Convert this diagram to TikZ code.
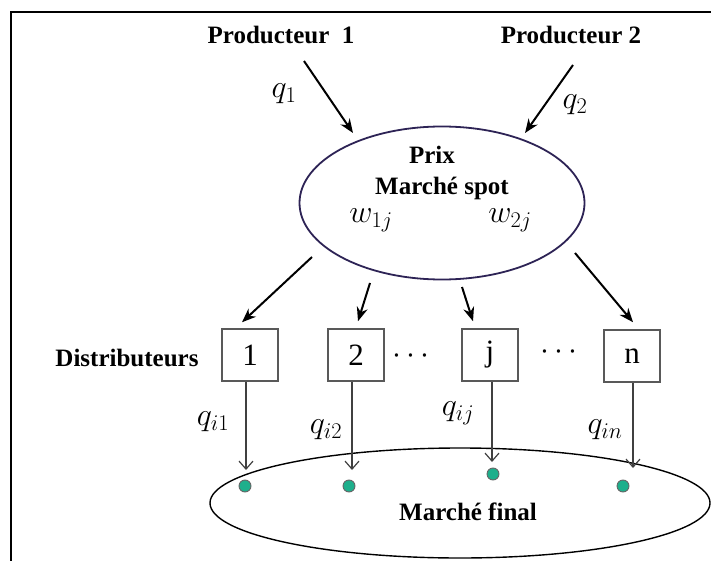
\RequirePackage{fix-cm}
\documentclass[tikz,border=0pt]{standalone}
\usepackage[no-math]{fontspec}
\setmainfont{Liberation Serif}
\usetikzlibrary{shapes.geometric,arrows.meta}
\definecolor{spotline}{RGB}{45,35,85}
\definecolor{dotgreen}{RGB}{30,175,140}

\begin{document}
\begin{tikzpicture}[x=1pt,y=-1pt,
  every node/.style={inner sep=0pt},
  actor/.style={font=\fontsize{25}{30}\selectfont\bfseries},
  qty/.style={font=\fontsize{32}{36}\selectfont},
  distbox/.style={draw=black!65,line width=1.5pt,minimum width=56pt,minimum height=52pt,font=\fontsize{31}{34}\selectfont},
  feed/.style={-{Stealth[length=14pt,width=11pt]},line width=2pt},
  sale/.style={-{Straight Barb[length=8pt,width=14pt]},line width=1.2pt,draw=black!75},
  pt/.style={circle,draw=black!60,fill=dotgreen,minimum size=12pt,line width=0.9pt}]
\useasboundingbox (0,0) rectangle (711,561);
\draw [line width=2.6pt] (11,561) -- (11,12) -- (711,12);
\node [actor] (p1) at (281,35) {Producteur\ \ 1};
\node [actor] (p2) at (571,35) {Producteur 2};
\node [ellipse,draw=spotline,line width=1.8pt,minimum width=285pt,minimum height=153pt] (spot) at (442,203) {};
\node [actor] (prix) at (432,155) {Prix};
\node [actor] (mspot) at (442,188) {Marché spot};
\node [qty] (w1) at (371,220) {$w_{1j}$};
\node [qty] (w2) at (510,220) {$w_{2j}$};
\draw [feed] ([shift={(23,26)}]p1.center) -- ([shift={(-89,-70)}]spot.center);
\draw [feed] ([shift={(2,30)}]p2.center) -- ([shift={(83,-70)}]spot.center);
\node [qty] (q1) at (284,94) {$q_1$};
\node [qty] (q2) at (575,105) {$q_2$};
\node [actor] (dist) at (127,358) {Distributeurs};
\node [distbox] (b1) at (250,355) {1};
\node [distbox] (b2) at (356,355) {2};
\node [distbox] (bj) at (490,355) {j};
\node [distbox] (bn) at (632,356) {n};
\node [qty] (dots1) at (411,356) {$\cdots$};
\node [qty] (dots2) at (559,352) {$\cdots$};
\draw [feed] ([shift={(-130,54)}]spot.center) -- ([shift={(-8,-6)}]b1.north);
\draw [feed] ([shift={(-72,80)}]spot.center) -- ([shift={(2,-7)}]b2.north);
\draw [feed] ([shift={(20,84)}]spot.center) -- ([shift={(-17,-7)}]bj.north);
\draw [feed] ([shift={(133,50)}]spot.center) -- ([shift={(1,-7)}]bn.north);
\node [ellipse,draw,line width=1.4pt,minimum width=500pt,minimum height=110pt] (fin) at (460,503) {};
\node [actor] (mfin) at (468,512) {Marché final};
\coordinate (t1) at (246,470);
\coordinate (t2) at (352,470);
\coordinate (tj) at (492,462);
\coordinate (tn) at (633,468);
\draw [sale] (b1.south -| t1) -- (t1);
\draw [sale] (b2.south -| t2) -- (t2);
\draw [sale] (bj.south -| tj) -- (tj);
\draw [sale] (bn.south -| tn) -- (tn);
\node [qty] (qi1) at (213,422) {$q_{i1}$};
\node [qty] (qi2) at (326,430) {$q_{i2}$};
\node [qty] (qij) at (458,413) {$q_{ij}$};
\node [qty] (qin) at (605,430) {$q_{in}$};
\node [pt] (d1) at (245,486) {};
\node [pt] (d2) at (349,486) {};
\node [pt] (dj) at (493,474) {};
\node [pt] (dn) at (623,486) {};
\end{tikzpicture}
\end{document}
